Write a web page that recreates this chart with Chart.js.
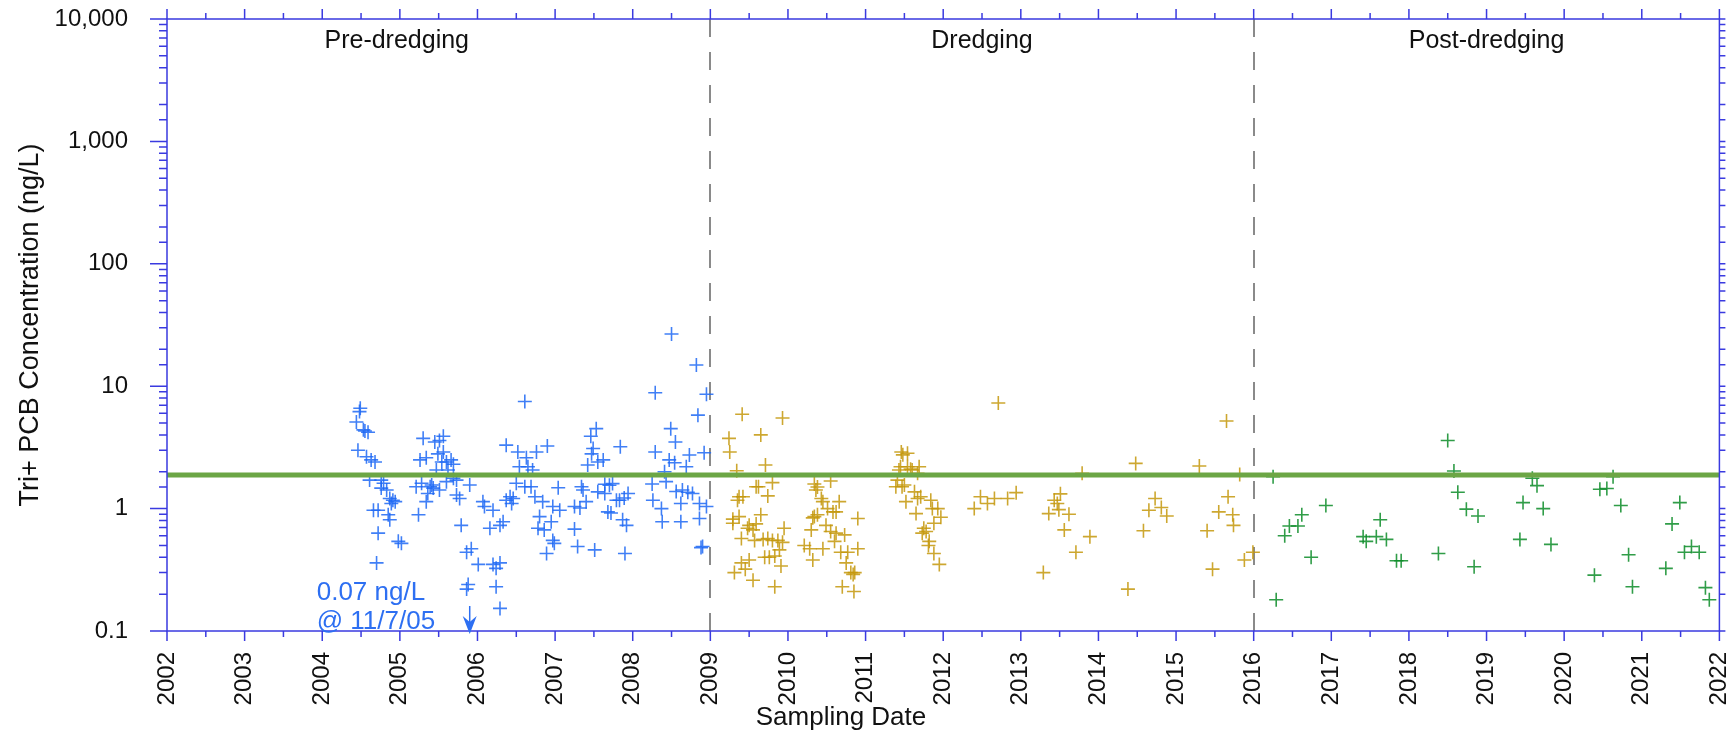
<!DOCTYPE html>
<html>
<head>
<meta charset="utf-8">
<script src="https://cdn.jsdelivr.net/npm/chart.js@4.4.1/dist/chart.umd.min.js"></script>
<style>
  body { margin: 0; background: #fff; }
  #caixa { width: 1728px; height: 731px; }
</style>
</head>
<body>
<div id="caixa"><canvas id="grafico"></canvas></div>
<script>
// datas (ano decimal) e concentrações (ng/L)
const preDates = [2004.49,2004.48,2004.44,2004.53,2004.55,2004.59,2004.46,2004.57,2004.63,2004.68,2004.61,2004.76,2004.79,2004.76,2004.83,2004.87,2004.91,2004.94,2004.89,2004.66,2004.72,2004.85,2004.87,2004.72,2004.98,2005.02,2004.70,
  2005.30,2005.45,2005.51,2005.56,2005.26,2005.34,2005.49,2005.56,2005.54,2005.60,2005.66,2005.69,2005.47,2005.62,2005.21,2005.28,2005.39,2005.43,2005.51,2005.41,2005.36,2005.34,2005.24,2005.60,2005.69,2005.73,2005.73,2005.77,2005.90,2005.79,2005.92,2005.86,
  2006.01,2006.20,2006.24,2006.29,2005.88,2005.86,2006.24,2006.29,2006.07,2006.09,2006.20,2006.16,2006.29,2006.33,2006.37,2006.42,2006.46,2006.37,2006.44,
  2008.50,2008.82,2008.29,2008.95,2008.84,2006.61,2007.53,2007.46,2007.49,2007.47,2007.55,2007.62,2007.42,2007.84,2008.49,2008.55,2008.29,2008.73,2008.92,2008.47,2008.54,2008.69,2008.41,
  2006.90,2006.52,2006.76,2006.63,2006.54,2006.65,2006.71,2006.50,2006.61,2006.69,2006.74,2007.04,2006.84,2007.06,2006.97,2006.80,2006.95,2006.78,2006.86,2006.97,2006.99,2006.89,
  2007.25,2007.29,2007.51,2007.90,2007.34,2007.36,2007.40,2007.25,2007.32,2007.64,2007.70,2007.74,2007.55,2007.64,2007.79,2007.83,2007.94,2007.89,2007.68,2007.72,2007.87,2007.92,
  2008.25,2008.43,2008.26,2008.37,2008.38,2008.56,2008.64,2008.71,2008.77,2008.62,2008.86,2008.95,2008.62,2008.86,2008.88,2008.90];
const preValues = [6.6,6.2,5.1,4.4,4.3,4.2,3.0,2.65,2.5,2.4,1.71,1.71,1.61,1.47,1.42,1.21,1.17,1.14,1.10,0.97,0.97,0.89,0.81,0.63,0.54,0.52,0.36,
  3.75,3.5,3.6,3.9,2.5,2.6,2.8,2.9,2.4,2.4,2.5,2.3,2.07,2.07,1.51,1.61,1.51,1.47,1.42,1.56,1.33,1.14,0.89,1.66,1.77,1.71,1.29,1.21,1.56,0.73,0.47,0.44,
  0.35,0.35,0.325,0.36,0.24,0.22,0.23,0.153,1.14,1.04,0.97,0.69,0.73,0.78,3.3,1.25,1.21,1.17,1.10,
  26.7,14.9,8.85,8.6,5.8,7.5,4.5,3.9,3.1,2.8,2.4,2.5,2.27,3.2,4.5,3.5,2.9,2.74,2.86,2.5,2.37,2.2,2.0,
  3.25,2.9,2.9,2.6,2.2,2.2,2.07,1.61,1.51,1.51,1.25,1.48,1.14,0.97,1.04,0.86,0.78,0.69,0.67,0.55,0.52,0.43,
  0.68,0.49,0.46,0.43,1.51,1.42,1.14,1.04,1.01,1.58,1.55,1.6,1.37,1.33,1.17,1.17,1.33,1.22,0.94,0.92,0.81,0.73,
  1.59,1.66,1.17,1.0,0.78,1.38,1.42,1.36,1.33,1.10,1.10,1.04,0.78,0.83,0.48,0.49];

const dredDates = [2009.41,2009.93,2009.24,2009.65,2009.25,2009.71,2009.34,2009.59,2009.62,2009.80,2009.74,2009.37,2009.42,2009.35,2009.65,2009.37,2009.29,2009.29,2009.50,2009.55,2009.48,2009.59,2009.95,2009.40,2009.57,2009.68,2009.74,2009.80,2009.87,2009.93,2009.70,2009.76,2009.83,2009.89,2009.40,2009.50,2009.45,2009.31,2009.91,2009.55,2009.83,
  2010.34,2010.36,2010.38,2010.55,2010.43,2010.45,2010.66,2010.51,2010.58,2010.62,2010.34,2010.38,2010.32,2010.90,2010.49,2010.30,2010.55,2010.62,2010.73,2010.60,2010.21,2010.28,2010.45,2010.68,2010.77,2010.90,2010.32,2010.75,2010.81,2010.84,2010.86,2010.70,2010.85,
  2011.46,2011.54,2011.48,2011.45,2011.54,2011.58,2011.69,2011.43,2011.60,2011.67,2011.41,2011.50,2011.39,2011.47,2011.63,2011.71,2011.67,2011.52,2011.84,2011.86,2011.93,2011.65,2011.97,2011.88,2011.75,2011.78,2011.73,2011.82,2011.81,2011.88,2011.95,
  2012.48,2012.40,2012.57,2012.66,2012.83,2012.94,2012.71,2013.29,2013.36,2013.49,2013.62,2013.51,2013.43,2013.47,2013.56,2013.71,
  2013.79,2013.89,2014.38,2014.48,2014.73,2014.65,2014.81,2014.88,2014.58,2015.65,2015.30,2015.67,2015.55,2015.73,2015.74,2015.40,2015.47,2015.82,2015.99,2015.88];
const dredValues = [5.9,5.5,3.75,4.0,2.9,2.27,2.04,1.51,1.51,1.63,1.27,1.25,1.25,1.17,0.89,0.86,0.82,0.76,0.73,0.67,0.69,0.75,0.69,0.57,0.55,0.56,0.57,0.55,0.55,0.53,0.40,0.40,0.41,0.46,0.36,0.38,0.32,0.30,0.34,0.26,0.23,
  1.59,1.42,1.5,1.68,1.21,1.14,1.14,1.0,0.94,0.94,0.86,0.89,0.84,0.83,0.73,0.67,0.65,0.63,0.61,0.54,0.50,0.47,0.47,0.44,0.44,0.47,0.38,0.36,0.30,0.29,0.30,0.23,0.21,
  2.9,2.83,2.75,2.2,2.2,2.1,2.2,2.07,2.07,1.94,1.71,1.56,1.51,1.51,1.37,1.25,1.21,1.14,1.17,1.0,1.0,0.91,0.85,0.76,0.69,0.65,0.63,0.54,0.50,0.43,0.35,
  1.25,1.0,1.10,1.21,1.21,1.35,7.3,0.30,0.91,0.98,0.90,1.32,1.17,1.10,0.67,0.44,
  1.94,0.59,0.22,2.34,1.21,0.97,1.02,0.87,0.66,5.2,2.23,1.25,0.94,0.89,0.73,0.66,0.32,1.9,0.44,0.38];

const postDates = [2016.25,2016.29,2016.40,2016.46,2016.57,2016.62,2016.93,2016.74,2017.41,2017.45,2017.58,2017.71,2017.63,2017.84,2017.90,2018.38,2018.50,2018.58,2018.63,2018.74,2018.89,2018.84,
  2019.43,2019.47,2019.59,2019.65,2019.73,2019.83,2020.39,2020.46,2020.55,2020.63,2020.73,2020.83,2020.88,2021.31,2021.39,2021.49,2021.55,2021.64,2021.74,2021.82,2021.87];
const postValues = [1.82,0.18,0.60,0.72,0.72,0.89,1.06,0.40,0.59,0.54,0.59,0.56,0.81,0.375,0.375,0.43,3.6,2.03,1.36,0.99,0.87,0.335,
  0.56,1.12,1.77,1.54,1.0,0.51,0.286,1.44,1.46,1.82,1.06,0.42,0.23,0.325,0.75,1.12,0.44,0.49,0.44,0.226,0.18];

const nivelReferencia = 1.88;             // linha verde horizontal
const periodBreaks = [2009, 2016];        // linhas tracejadas
const periodLabels = ['Pre-dredging', 'Dredging', 'Post-dredging'];
const periodLabelAt = [2004.96, 2012.5, 2019.0];
const lowValue = 0.07;                    // valor abaixo do eixo (seta)
const lowDate = 2005.9;
const lowDateText = '11/7/05';

const azul = '#3a3ae0';
const fonte = '"Liberation Sans", Arial, sans-serif';

const pontos = (ds, vs) => ds.map((d, i) => ({ x: d, y: vs[i] }));
const isDecade = v => Math.abs(Math.log10(v) - Math.round(Math.log10(v))) < 1e-6;

const decoracao = {
  id: 'decoracao',
  beforeDatasetsDraw(chart) {
    const { ctx, chartArea: a, scales: { x } } = chart;
    ctx.save();
    ctx.strokeStyle = '#8a8a8a';
    ctx.lineWidth = 2;
    ctx.setLineDash([18, 15]);
    periodBreaks.forEach(b => {
      const px = Math.round(x.getPixelForValue(b));
      ctx.beginPath();
      ctx.moveTo(px, a.bottom);
      ctx.lineTo(px, a.top);
      ctx.stroke();
    });
    ctx.restore();
  },
  afterDraw(chart) {
    const { ctx, chartArea: a, scales: { x, y } } = chart;
    ctx.save();
    // moldura
    ctx.strokeStyle = azul;
    ctx.lineWidth = 1.5;
    ctx.strokeRect(a.left, a.top, a.right - a.left, a.bottom - a.top);
    // ticks do eixo x (embaixo e em cima)
    x.ticks.forEach(t => {
      const px = x.getPixelForValue(t.value);
      const len = Number.isInteger(t.value) ? 10 : 6;
      ctx.beginPath();
      ctx.moveTo(px, a.bottom); ctx.lineTo(px, a.bottom + len);
      ctx.moveTo(px, a.top); ctx.lineTo(px, a.top - len);
      ctx.stroke();
    });
    // ticks do eixo y (esquerda e direita)
    y.ticks.forEach(t => {
      const py = y.getPixelForValue(t.value);
      if (py < a.top - 1 || py > a.bottom + 1) return;
      const len = isDecade(t.value) ? 17 : 8;
      ctx.beginPath();
      ctx.moveTo(a.left, py); ctx.lineTo(a.left - len, py);
      ctx.moveTo(a.right, py); ctx.lineTo(a.right + 6, py);
      ctx.stroke();
    });

    // nomes dos períodos
    ctx.fillStyle = '#111';
    ctx.font = '25px ' + fonte;
    ctx.textAlign = 'center';
    ctx.textBaseline = 'middle';
    periodLabels.forEach((txt, i) => ctx.fillText(txt, x.getPixelForValue(periodLabelAt[i]), a.top + 22));

    // títulos dos eixos
    ctx.font = '26px ' + fonte;
    ctx.fillText('Sampling Date', 841, 718);
    ctx.font = '27px ' + fonte;
    ctx.save();
    ctx.translate(31, (a.top + a.bottom) / 2);
    ctx.rotate(-Math.PI / 2);
    ctx.fillText('Tri+ PCB Concentration (ng/L)', 0, 0);
    ctx.restore();

    // anotação do valor abaixo do limite do eixo
    const ax = x.getPixelForValue(lowDate);
    const tip = a.bottom + 3;
    ctx.fillStyle = '#2d6ff2';
    ctx.strokeStyle = '#2d6ff2';
    ctx.font = '26px ' + fonte;
    ctx.textAlign = 'left';
    ctx.fillText(lowValue + ' ng/L', ax - 153, a.bottom - 38);
    ctx.fillText('@ ' + lowDateText, ax - 153, a.bottom - 9);
    ctx.lineWidth = 1.5;
    ctx.beginPath();
    ctx.moveTo(ax, tip - 28); ctx.lineTo(ax, tip - 8);
    ctx.stroke();
    ctx.beginPath();
    ctx.moveTo(ax, tip);
    ctx.lineTo(ax - 7, tip - 18);
    ctx.lineTo(ax, tip - 12);
    ctx.lineTo(ax + 7, tip - 18);
    ctx.closePath();
    ctx.fill();
    ctx.restore();
  }
};

const estiloPonto = cor => ({
  pointStyle: 'cross',
  pointRadius: 7,
  pointBorderWidth: 1.6,
  borderColor: cor,
  backgroundColor: cor,
  order: 1
});

const grafico = new Chart(document.getElementById('grafico'), {
  type: 'scatter',
  data: {
    datasets: [
      {
        label: 'referencia',
        data: [{ x: 2002, y: nivelReferencia }, { x: 2022, y: nivelReferencia }],
        showLine: true,
        borderColor: '#6ca645',
        borderWidth: 5,
        pointRadius: 0,
        order: 0
      },
      { label: 'Pre-dredging', data: pontos(preDates, preValues), ...estiloPonto('rgba(30,105,245,0.85)') },
      { label: 'Dredging', data: pontos(dredDates, dredValues), ...estiloPonto('rgba(196,152,12,0.85)') },
      { label: 'Post-dredging', data: pontos(postDates, postValues), ...estiloPonto('rgba(12,140,40,0.85)') }
    ]
  },
  options: {
    responsive: true,
    maintainAspectRatio: false,
    animation: false,
    events: [],
    layout: { padding: { left: 0, right: 6, top: 19, bottom: 0 } },
    plugins: { legend: { display: false }, tooltip: { enabled: false } },
    scales: {
      x: {
        type: 'linear',
        min: 2002,
        max: 2022,
        grid: { display: false, drawTicks: false, tickLength: 0 },
        border: { display: false },
        ticks: {
          stepSize: 0.5,
          autoSkip: false,
          minRotation: 90,
          maxRotation: 90,
          padding: 21,
          color: '#111',
          font: { family: fonte, size: 24 },
          callback: v => Number.isInteger(v) ? String(v) : ''
        },
        afterFit: s => { s.height = 100; s.paddingLeft = 0; s.paddingRight = 0; }
      },
      y: {
        type: 'logarithmic',
        min: 0.1,
        max: 10000,
        grid: { display: false, drawTicks: false, tickLength: 0 },
        border: { display: false },
        ticks: {
          autoSkip: false,
          padding: 39,
          color: '#111',
          font: { family: fonte, size: 24 },
          callback: v => isDecade(v) ? Number(v).toLocaleString('en-US') : ''
        },
        afterFit: s => { s.width = 167; s.paddingTop = 0; s.paddingBottom = 0; }
      }
    }
  },
  plugins: [decoracao]
});
</script>
</body>
</html>
